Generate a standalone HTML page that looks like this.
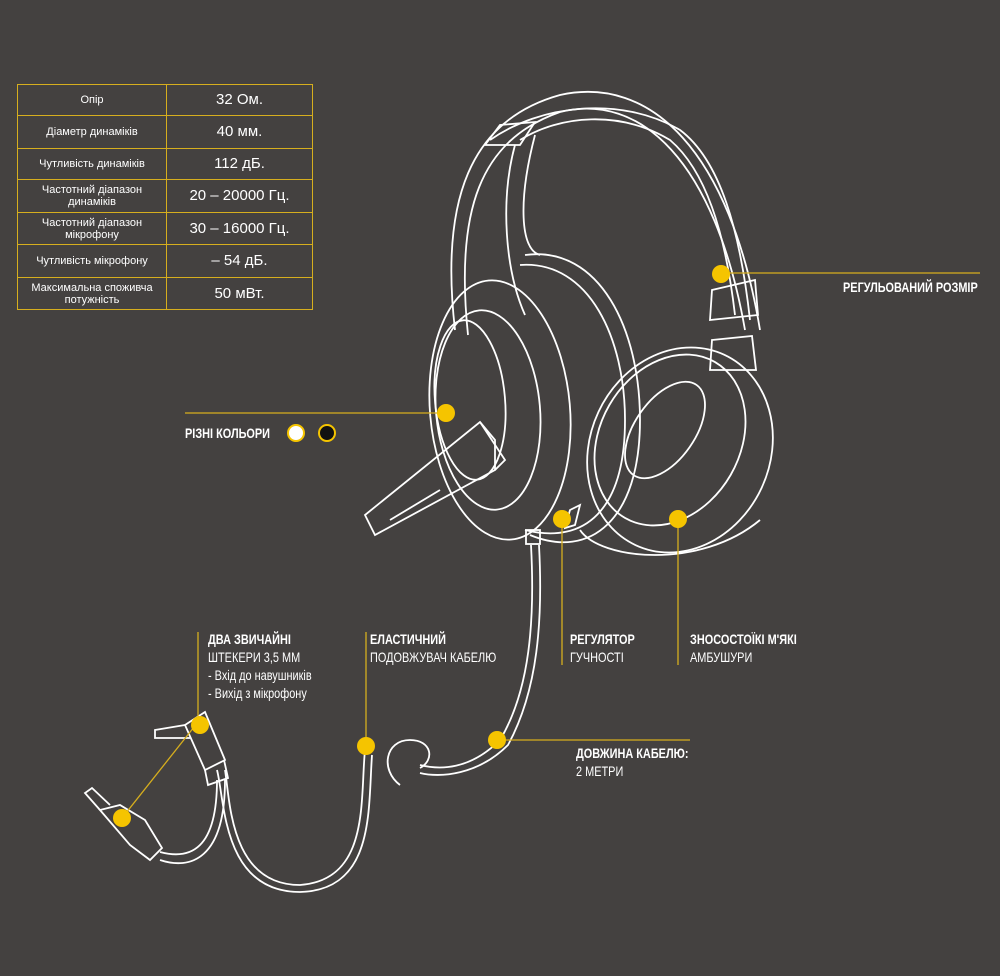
<!DOCTYPE html>
<html><head><meta charset="utf-8"><style>
body{margin:0;background:#444140;}
.w{position:relative;width:1000px;height:976px;overflow:hidden;background:#444140;font-family:"Liberation Sans",sans-serif;color:#fff;}
table{position:absolute;left:17px;top:84px;width:296px;border-collapse:collapse;}
td{border:1.5px solid #d6ae1e;text-align:center;color:#fff;padding:0;line-height:12px;}
td.a{width:148px;font-size:11px;}
td.b{font-size:15px;}
.lab{position:absolute;font-size:14px;line-height:18px;transform-origin:0 0;transform:scaleX(.78);white-space:nowrap;}
.lab b{font-weight:bold;}
</style></head><body><div class="w">
<table>
<tr style="height:31px"><td class="a">Опір</td><td class="b">32 Ом.</td></tr>
<tr style="height:33px"><td class="a">Діаметр динаміків</td><td class="b">40 мм.</td></tr>
<tr style="height:31px"><td class="a">Чутливість динаміків</td><td class="b">112 дБ.</td></tr>
<tr style="height:33px"><td class="a">Частотний діапазон<br>динаміків</td><td class="b">20 – 20000 Гц.</td></tr>
<tr style="height:32px"><td class="a">Частотний діапазон<br>мікрофону</td><td class="b">30 – 16000 Гц.</td></tr>
<tr style="height:33px"><td class="a">Чутливість мікрофону</td><td class="b">– 54 дБ.</td></tr>
<tr style="height:32px"><td class="a">Максимальна споживча<br>потужність</td><td class="b">50 мВт.</td></tr>
</table>
<svg width="1000" height="976" style="position:absolute;left:0;top:0" fill="none" stroke="#fff" stroke-width="1.8">
<path d="M455 330 C440 200 470 120 560 95 C650 75 730 150 760 330"/>
<path d="M468 335 C455 210 480 140 560 112 C640 92 715 160 745 330"/>
<path d="M490 140 C540 105 620 95 680 130 C720 160 740 230 750 320"/>
<path d="M520 140 C560 115 620 110 670 140 C705 170 725 230 735 315"/>
<path d="M485 145 L500 125 L535 122 L520 145 Z"/>
<path d="M515 145 C500 200 505 270 525 315"/>
<path d="M535 135 C518 200 520 250 540 255"/>
<path d="M710 320 L758 315 L755 280 L712 290 Z"/>
<path d="M712 340 L752 336 L756 370 L710 370 Z"/>
<ellipse cx="680" cy="450" rx="90" ry="105" transform="rotate(25 680 450)"/>
<ellipse cx="670" cy="440" rx="70" ry="90" transform="rotate(30 670 440)"/>
<ellipse cx="665" cy="430" rx="30" ry="55" transform="rotate(35 665 430)"/>
<path d="M580 530 C600 560 700 570 760 520"/>
<path d="M525 255 C600 245 640 330 640 420 C640 520 590 560 530 535"/>
<path d="M520 265 C590 260 625 340 625 420 C625 510 585 545 525 530"/>
<ellipse cx="500" cy="410" rx="70" ry="130" transform="rotate(-5 500 410)"/>
<ellipse cx="488" cy="410" rx="52" ry="100" transform="rotate(-5 488 410)"/>
<ellipse cx="470" cy="400" rx="35" ry="80" transform="rotate(-5 470 400)"/>
<path d="M495 440 L480 422 L365 515 L375 535 L495 470 Z"/>
<path d="M480 422 L505 460 L495 470"/>
<path d="M390 520 L440 490"/>
<path d="M570 510 L580 505 L575 525 L565 528 Z"/>
<rect x="526" y="530" width="14" height="14"/>
<path d="M531 545 C535 620 530 690 500 740 C470 770 440 770 420 765"/>
<path d="M539 545 C543 620 538 690 508 745 C478 775 440 778 420 773"/>
<path d="M420 768 C435 760 432 740 410 740 C385 740 380 770 400 785"/>
<path d="M365 750 C360 800 370 880 300 885 C230 885 230 800 225 770"/>
<path d="M372 755 C368 810 375 890 300 892 C222 892 225 800 217 770"/>
<path d="M225 780 C225 860 190 870 160 860"/>
<path d="M217 780 C217 850 190 860 160 852"/>
<path d="M185 725 L205 712 L225 760 L205 770 Z"/>
<path d="M205 770 L208 785 L228 778 L224 760"/>
<path d="M185 725 L155 730 L155 738 L190 738"/>
<path d="M100 810 L130 845 L150 860 L162 848 L145 820 L120 805 Z"/>
<path d="M100 810 L85 793 L92 788 L110 805"/>
</svg>
<svg width="1000" height="976" style="position:absolute;left:0;top:0" stroke="#d6ae1e" stroke-width="1.3" fill="none">
<line x1="722" y1="273" x2="980" y2="273"/>
<line x1="185" y1="413" x2="446" y2="413"/>
<line x1="562" y1="520" x2="562" y2="665"/>
<line x1="678" y1="520" x2="678" y2="665"/>
<line x1="497" y1="740" x2="690" y2="740"/>
<line x1="366" y1="632" x2="366" y2="746"/>
<line x1="198" y1="632" x2="198" y2="722"/>
<line x1="122" y1="818" x2="198" y2="722"/>
<g fill="#f5c400" stroke="none">
<circle cx="721" cy="274" r="9"/><circle cx="446" cy="413" r="9"/><circle cx="562" cy="519" r="9"/>
<circle cx="678" cy="519" r="9"/><circle cx="497" cy="740" r="9"/><circle cx="366" cy="746" r="9"/>
<circle cx="200" cy="725" r="9"/><circle cx="122" cy="818" r="9"/>
<circle cx="296" cy="433" r="8" fill="#fff" stroke="#f5c400" stroke-width="2"/>
<circle cx="327" cy="433" r="8" fill="#111" stroke="#f5c400" stroke-width="2"/>
</g>
</svg>
<div class="lab" style="left:843px;top:278px"><b>РЕГУЛЬОВАНИЙ РОЗМІР</b></div>
<div class="lab" style="left:185px;top:424px"><b>РІЗНІ КОЛЬОРИ</b></div>
<div class="lab" style="left:570px;top:630px"><b>РЕГУЛЯТОР</b><br>ГУЧНОСТІ</div>
<div class="lab" style="left:690px;top:630px"><b>ЗНОСОСТОЇКІ М'ЯКІ</b><br>АМБУШУРИ</div>
<div class="lab" style="left:576px;top:744px"><b>ДОВЖИНА КАБЕЛЮ:</b><br>2 МЕТРИ</div>
<div class="lab" style="left:370px;top:630px"><b>ЕЛАСТИЧНИЙ</b><br>ПОДОВЖУВАЧ КАБЕЛЮ</div>
<div class="lab" style="left:208px;top:630px"><b>ДВА ЗВИЧАЙНІ</b><br>ШТЕКЕРИ 3,5 ММ<br>- Вхід до навушників<br>- Вихід з мікрофону</div>
</div></body></html>
